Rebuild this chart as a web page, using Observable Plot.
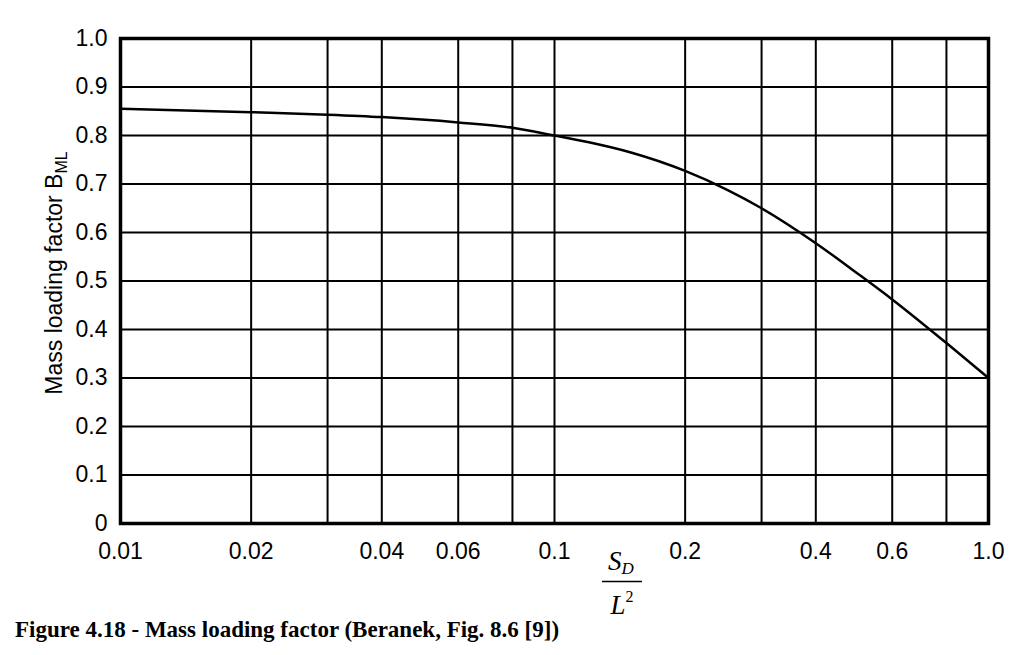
<!DOCTYPE html>
<html>
<head>
<meta charset="utf-8">
<script src="https://cdn.jsdelivr.net/npm/d3@7"></script>
<script src="https://cdn.jsdelivr.net/npm/@observablehq/plot@0.6"></script>
<style>
  html, body { margin: 0; padding: 0; background: #fff; }
  #chart { position: relative; width: 1024px; height: 618px; }
  #chart svg { overflow: visible; display: block; }
  #caption { font-family: "Liberation Serif", "Times New Roman", serif; font-weight: bold; font-size: 23px; margin: 0 0 0 15px; line-height: 24px; color: #000; white-space: nowrap; }
</style>
</head>
<body>
<div id="chart"></div>
<div id="caption">Figure 4.18 - Mass loading factor (Beranek, Fig. 8.6 [9])</div>
<script>
// Curve (S_D / L^2 vs mass loading factor B_ML)
const ratio = [0.01, 0.02, 0.03, 0.04, 0.06, 0.08, 0.1, 0.12, 0.15, 0.2, 0.25, 0.3, 0.4, 0.5, 0.6, 0.8, 1.0];
const bml   = [0.855, 0.848, 0.843, 0.838, 0.827, 0.816, 0.800, 0.786, 0.765, 0.727, 0.688, 0.650, 0.578, 0.515, 0.462, 0.372, 0.300];

// Grid and tick values
const xGrid = [0.01, 0.02, 0.03, 0.04, 0.06, 0.08, 0.1, 0.2, 0.3, 0.4, 0.6, 0.8, 1.0];
const xTicks = [0.01, 0.02, 0.04, 0.06, 0.1, 0.2, 0.4, 0.6, 1.0];
const xTickLabels = ["0.01", "0.02", "0.04", "0.06", "0.1", "0.2", "0.4", "0.6", "1.0"];
const yTicks = [0, 0.1, 0.2, 0.3, 0.4, 0.5, 0.6, 0.7, 0.8, 0.9, 1.0];
const yTickLabels = ["0", "0.1", "0.2", "0.3", "0.4", "0.5", "0.6", "0.7", "0.8", "0.9", "1.0"];

const data = ratio.map((r, i) => ({r, b: bml[i]}));
const xt = xTicks.map((v, i) => ({v, t: xTickLabels[i]}));
const yt = yTicks.map((v, i) => ({v, t: yTickLabels[i]}));

const plot = Plot.plot({
  width: 1024,
  height: 618,
  marginLeft: 120,
  marginRight: 36,
  marginTop: 38,
  marginBottom: 95,
  style: {fontFamily: "'Liberation Sans', Arial, sans-serif", color: "#000", background: "#fff", overflow: "visible"},
  x: {type: "log", domain: [0.01, 1], axis: null},
  y: {domain: [0, 1], axis: null},
  marks: [
    Plot.ruleX(xGrid, {stroke: "#000", strokeWidth: 2}),
    Plot.ruleY(yTicks, {stroke: "#000", strokeWidth: 2}),
    Plot.frame({stroke: "#000", strokeWidth: 3.5}),
    Plot.line(data, {x: "r", y: "b", curve: "monotone-x", stroke: "#000", strokeWidth: 2.5}),
    Plot.text(xt, {x: "v", text: "t", frameAnchor: "bottom", lineAnchor: "top", dy: 19, fontSize: 23, fill: "#000"}),
    Plot.text(yt, {y: "v", text: "t", frameAnchor: "left", textAnchor: "end", dx: -13, fontSize: 23, fill: "#000"})
  ]
});

document.getElementById("chart").appendChild(plot);

const svg = d3.select(plot);
// Y axis title with subscript
const ytitle = svg.append("text")
  .attr("transform", "translate(62,273) rotate(-90)")
  .attr("text-anchor", "middle")
  .style("font-family", "'Liberation Sans', Arial, sans-serif")
  .style("font-size", "23px")
  .attr("fill", "#000");
ytitle.append("tspan").text("Mass loading factor B");
ytitle.append("tspan").attr("dy", 5).style("font-size", "16px").text("ML");

// X axis title as a fraction S_D / L^2
const fx = 622;
const g = svg.append("g")
  .style("font-family", "'Liberation Serif', 'Times New Roman', serif")
  .style("font-style", "italic")
  .attr("fill", "#000");
const s = g.append("text").attr("x", fx - 1).attr("y", 570).attr("text-anchor", "middle").style("font-size", "27px");
s.append("tspan").text("S");
s.append("tspan").attr("dy", 4).style("font-size", "17px").text("D");
svg.append("line").attr("x1", fx - 20).attr("x2", fx + 20).attr("y1", 581.5).attr("y2", 581.5)
  .attr("stroke", "#000").attr("stroke-width", 1.5);
const l = g.append("text").attr("x", fx).attr("y", 614).attr("text-anchor", "middle").style("font-size", "27px");
l.append("tspan").text("L");
l.append("tspan").attr("dy", -12).style("font-size", "16px").style("font-style", "normal").text("2");
</script>
</body>
</html>
